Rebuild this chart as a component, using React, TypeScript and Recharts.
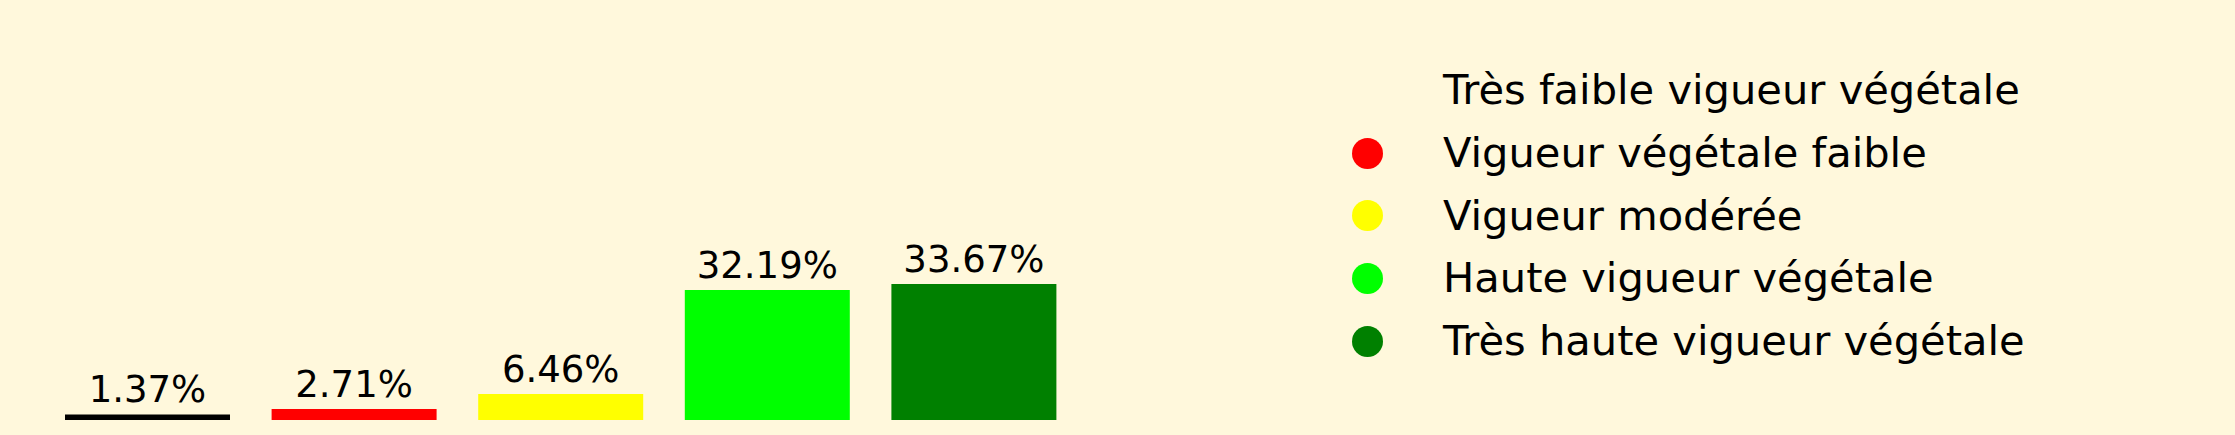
import { BarChart, Bar, XAxis, YAxis, Cell, LabelList } from "recharts";

const categories = [
  "Très faible vigueur végétale",
  "Vigueur végétale faible",
  "Vigueur modérée",
  "Haute vigueur végétale",
  "Très haute vigueur végétale",
];
const shares = [1.37, 2.71, 6.46, 32.19, 33.67];
const barColors = ["#000000", "#ff0000", "#ffff00", "#00ff00", "#008000"];
// the first legend entry has no visible marker in the reference
const markerColors = ["transparent", "#ff0000", "#ffff00", "#00ff00", "#008000"];

const data = categories.map((name, i) => ({ name, value: shares[i] }));

const FONT = "'DejaVu Sans', sans-serif";

const renderLabel = (props: any) => {
  const { x, y, width, value } = props;
  return (
    <text
      x={Number(x) + Number(width) / 2}
      y={Number(y) - 12}
      textAnchor="middle"
      fontSize={37}
      fontFamily={FONT}
      fill="#000"
    >
      {`${Number(value).toFixed(2)}%`}
    </text>
  );
};

export default function App() {
  return (
    <div
      style={{
        position: "relative",
        width: 2235,
        height: 435,
        background: "#fff8dc",
        overflow: "hidden",
      }}
    >
      <style>{`body{margin:0}`}</style>
      <BarChart
        width={2235}
        height={435}
        data={data}
        margin={{ top: 258.4, right: 1158, bottom: 15, left: 44 }}
      >
        <XAxis dataKey="name" hide />
        <YAxis domain={[0, 40]} hide />
        <Bar dataKey="value" barSize={165} isAnimationActive={false}>
          {data.map((d, i) => (
            <Cell key={d.name} fill={barColors[i]} />
          ))}
          <LabelList dataKey="value" content={renderLabel} />
        </Bar>
      </BarChart>
      <div
        style={{
          position: "absolute",
          left: 1351.5,
          top: 59,
          fontFamily: FONT,
          fontSize: 41.6,
          color: "#000",
        }}
      >
        {categories.map((c, i) => (
          <div
            key={c}
            style={{
              display: "flex",
              alignItems: "center",
              height: 62.8,
              lineHeight: "62.8px",
              whiteSpace: "nowrap",
            }}
          >
            <span
              style={{
                display: "inline-block",
                width: 31,
                height: 31,
                borderRadius: "50%",
                background: markerColors[i],
                marginRight: 60.5,
              }}
            />
            <span>{c}</span>
          </div>
        ))}
      </div>
    </div>
  );
}
